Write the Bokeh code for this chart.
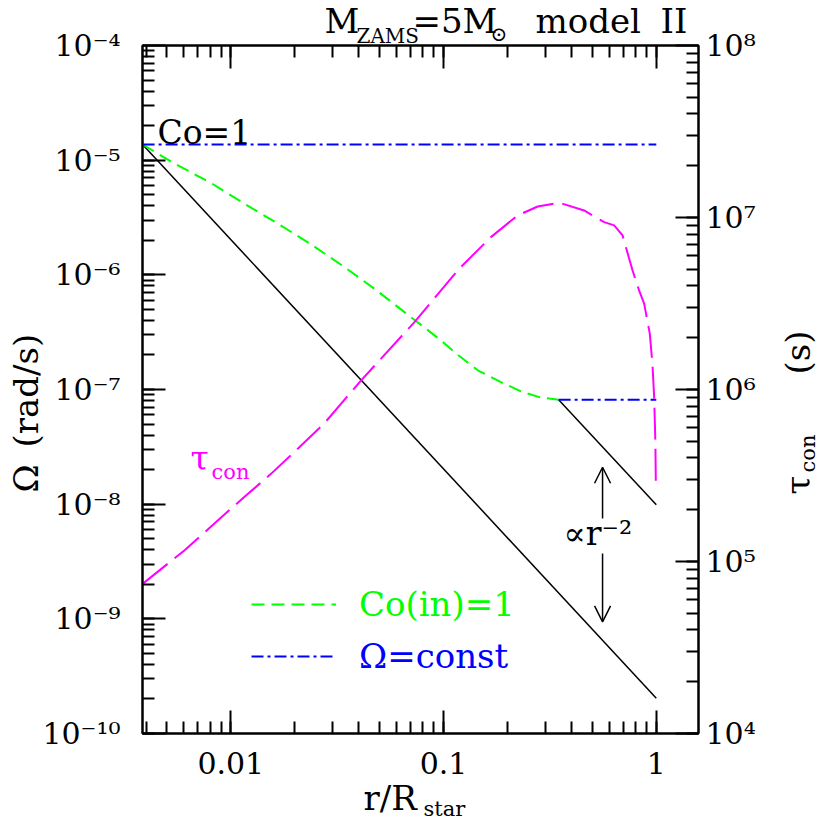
from bokeh.plotting import figure
from bokeh.models import (Range1d, LogAxis, LogScale, FixedTicker, Label, Arrow,
                          OpenHead, Legend, LegendItem)
from bokeh.core.properties import value
from bokeh.embed import file_html
from bokeh.resources import INLINE
import math

# ---------------- data ----------------
# Co(in)=1 curve (green dashed): r/R_star, Omega (rad/s)
coin_r = [0.00385, 0.00535, 0.0081, 0.0116, 0.01667, 0.02388, 0.0342, 0.0473,
          0.0655, 0.0973, 0.1124, 0.1448, 0.186, 0.2354, 0.287, 0.3475]
coin_omega = [1.37e-5, 9.5e-6, 6.3e-6, 4.17e-6, 2.79e-6, 1.84e-6, 1.17e-6, 7.57e-7,
              4.73e-7, 2.68e-7, 2.12e-7, 1.47e-7, 1.16e-7, 9.5e-8, 8.49e-8, 8.15e-8]

# Omega = const (blue dash-dot)
const_top_r = [0.00385, 1.0]
const_top_omega = [1.37e-5, 1.37e-5]
const_bot_r = [0.3475, 1.0]
const_bot_omega = [8.15e-8, 8.15e-8]

# Co=1 lines (black, proportional to r^-2)
co1_r = [0.00385, 1.0]
co1_omega = [1.37e-5, 2.03e-10]
co1_outer_r = [0.3475, 1.0]
co1_outer_omega = [8.15e-8, 9.9e-9]

# convective turnover time tau_con (magenta, right axis, s)
tau_r = [0.00385, 0.00607, 0.00871, 0.0116, 0.0155, 0.0207, 0.0276, 0.0410, 0.0730,
         0.1186, 0.167, 0.223, 0.277, 0.350, 0.458, 0.569, 0.634, 0.694, 0.773,
         0.830, 0.877, 0.932, 0.959, 0.977, 0.990, 0.995]
tau_con = [7.41e4, 1.164e5, 1.738e5, 2.377e5, 3.243e5, 4.539e5, 6.383e5, 1.130e6,
           2.466e6, 5.047e6, 7.691e6, 1.028e7, 1.159e7, 1.219e7, 1.099e7, 9.397e6,
           8.995e6, 7.870e6, 4.932e6, 3.767e6, 3.155e6, 2.113e6, 1.413e6, 9.036e5,
           5.01e5, 2.838e5]

# "proportional to r^-2" arrows
arrow_r = [0.559, 0.559]
arrow_from = [7.5e-9, 3.72e-9]
arrow_to = [2.1e-8, 9.4e-10]

# ticks
x_ticks = [0.01, 0.1, 1.0]
x_tick_labels = ["0.01", "0.1", "1"]
y_ticks = [1e-10, 1e-9, 1e-8, 1e-7, 1e-6, 1e-5, 1e-4]
y_tick_labels = ["10\u207b\u00b9\u2070", "10\u207b\u2079", "10\u207b\u2078", "10\u207b\u2077",
                 "10\u207b\u2076", "10\u207b\u2075", "10\u207b\u2074"]
tau_ticks = [1e4, 1e5, 1e6, 1e7, 1e8]
tau_tick_labels = ["10\u2074", "10\u2075", "10\u2076", "10\u2077", "10\u2078"]

x_minor = [m * 10.0 ** e for e in (-3, -2, -1, 0) for m in range(1, 10)]
y_minor = [m * 10.0 ** e for e in range(-10, -4) for m in range(1, 10)]
tau_minor = [m * 10.0 ** e for e in range(4, 8) for m in range(1, 10)]

FONT = "DejaVu Serif"
GREEN = "#00ff00"
BLUE = "#0000ff"
MAGENTA = "#ff00ff"

X_RANGE = (0.003846, 1.579)
Y_RANGE = (1e-10, 1e-4)
BL, BR, BT, BB = 142, 124, 45, 89
W = H = 822

p = figure(width=W, height=H, x_axis_type="log", y_axis_type="log",
           x_range=Range1d(*X_RANGE), y_range=Range1d(*Y_RANGE),
           output_backend="svg", toolbar_location=None,
           min_border_left=BL, min_border_right=BR, min_border_top=BT,
           min_border_bottom=BB)
p.extra_y_ranges = {"tau": Range1d(1e4, 1e8)}
p.extra_y_scales = {"tau": LogScale()}
p.grid.visible = False
p.outline_line_color = "black"
p.outline_line_width = 2
p.background_fill_color = "white"
p.border_fill_color = "white"


def style_axis(ax, ticks, minor, labels, standoff):
    ax.ticker = FixedTicker(ticks=ticks, minor_ticks=minor)
    ax.major_label_overrides = {t: l for t, l in zip(ticks, labels)}
    ax.major_tick_in = 23
    ax.major_tick_out = 0
    ax.minor_tick_in = 12
    ax.minor_tick_out = 0
    ax.axis_line_width = 2
    ax.major_tick_line_width = 2
    ax.minor_tick_line_width = 2
    ax.axis_line_color = "black"
    ax.major_tick_line_color = "black"
    ax.minor_tick_line_color = "black"
    ax.major_label_text_font = FONT
    ax.major_label_text_font_size = "30px"
    ax.major_label_text_color = "black"
    ax.major_label_standoff = standoff


style_axis(p.xaxis[0], x_ticks, x_minor, x_tick_labels, 18)
style_axis(p.yaxis[0], y_ticks, y_minor, y_tick_labels, 22)

top_axis = LogAxis()
style_axis(top_axis, x_ticks, x_minor, ["", "", ""], 0)
p.add_layout(top_axis, "above")

right_axis = LogAxis(y_range_name="tau")
style_axis(right_axis, tau_ticks, tau_minor, tau_tick_labels, 7)
p.add_layout(right_axis, "right")

# ---------------- lines ----------------
p.line(co1_r, co1_omega, line_color="black", line_width=1.5)
p.line(co1_outer_r, co1_outer_omega, line_color="black", line_width=1.5)
g_line = p.line(coin_r, coin_omega, line_color=GREEN, line_width=2, line_dash="13 7")
b_line = p.line(const_top_r, const_top_omega, line_color=BLUE, line_width=2,
                line_dash="12 4 3 4")
p.line(const_bot_r, const_bot_omega, line_color=BLUE, line_width=2, line_dash="12 4 3 4")
p.line(tau_r, tau_con, y_range_name="tau", line_color=MAGENTA, line_width=2,
       line_dash="32 9")

for i in range(2):
    p.add_layout(Arrow(end=OpenHead(size=16, line_width=1.5, line_color="black"),
                       x_start=arrow_r[i], y_start=arrow_from[i],
                       x_end=arrow_r[i], y_end=arrow_to[i],
                       line_width=1.5, line_color="black"))

# ---------------- legends ----------------
for item, color, loc in ((LegendItem(label="Co(in)=1", renderers=[g_line]), GREEN, (109, 109)),
                         (LegendItem(label="\u03a9=const", renderers=[b_line]), BLUE, (109, 57))):
    lg = Legend(items=[item], location=loc, glyph_width=85, glyph_height=40,
                label_height=40, label_standoff=23, padding=0, margin=0, spacing=0,
                border_line_color=None, background_fill_alpha=0,
                label_text_font=FONT, label_text_font_size="34px",
                label_text_color=color)
    p.add_layout(lg)


# ---------------- texts inside the frame (screen units, frame-relative) ----------------
def lab(text, x, y, size=33, color="black", align="left", baseline="alphabetic", angle=0.0):
    p.add_layout(Label(x=x, y=y, x_units="screen", y_units="screen", text=text,
                       text_font=FONT, text_font_size=f"{size}px", text_color=color,
                       text_align=align, text_baseline=baseline, angle=angle))


lab("Co=1", 15, 601)
lab("\u03c4", 48, 275, color=MAGENTA)
lab("con", 69, 262, size=21, color=MAGENTA)
lab("\u221dr\u207b\u00b2", 421, 200, baseline="middle")

# ---------------- texts outside the frame ----------------
# anchored at a point inside the frame (r=0.01, Omega=1e-5), shifted by pixel offsets
ANCHOR_X, ANCHOR_Y = 0.01, 1e-5
FW, FH = W - BL - BR, H - BT - BB
ax_px = BL + FW * (math.log10(ANCHOR_X) - math.log10(X_RANGE[0])) / (
    math.log10(X_RANGE[1]) - math.log10(X_RANGE[0]))
ay_px = BT + FH * (math.log10(Y_RANGE[1]) - math.log10(ANCHOR_Y)) / (
    math.log10(Y_RANGE[1]) - math.log10(Y_RANGE[0]))
BASE_SHIFT = 0.36  # alphabetic baseline correction of the text glyph, in em


def outer(text, sx, sy, size=34, color="black", align="left", baseline="alphabetic",
          angle=0.0):
    if baseline == "alphabetic":
        if angle == 0.0:
            sy -= BASE_SHIFT * size
        else:
            sx -= BASE_SHIFT * size
    p.text(x=[ANCHOR_X], y=[ANCHOR_Y], text=[text], x_offset=sx - ax_px, y_offset=sy - ay_px,
           text_font=value(FONT), text_font_size=value(f"{size}px"), text_color=color,
           text_align=value(align), text_baseline=value(baseline), angle=angle,
           level="overlay")


# title
outer("M", 324, 33)
outer("ZAMS", 356, 43, size=20)
outer("=5M", 412, 33)
outer("\u2299", 490, 41, size=20)
outer("model", 535, 33)
outer("II", 660, 33)

# x label
outer("r/R", 363, 810)
outer("star", 423, 816, size=21)

# left y label
outer("\u03a9", 38, 492, angle=math.pi / 2)
outer("(rad/s)", 38, 447, angle=math.pi / 2)

# right y label
outer("\u03c4", 810, 494, angle=math.pi / 2)
outer("con", 815, 472, size=21, angle=math.pi / 2)
outer("(s)", 810, 374, angle=math.pi / 2)

open("out.html", "w").write(file_html(p, INLINE))
